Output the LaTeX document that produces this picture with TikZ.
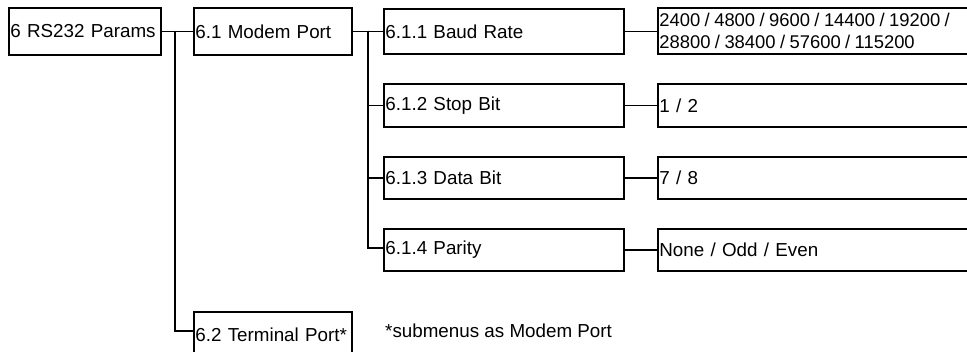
\documentclass[tikz,border=0pt]{standalone}
\usepackage{fontspec}
\setmainfont{Liberation Sans}
\usetikzlibrary{positioning,calc}
\newcommand{\tightspace}{\spaceskip=0.24em\relax}
\begin{document}
\begin{tikzpicture}[x=1pt,y=-1pt,
  every node/.style={font=\fontsize{18.8}{22.5}\selectfont},
  box/.style={draw, line width=1.8pt, rectangle, anchor=north west,
    inner xsep=1.5pt, inner ysep=0pt, align=left},
  conn/.style={line width=1.4pt}]
\clip (0,0) rectangle (967,351);
\fill[white] (0,0) rectangle (967,351);
% level 1
\node[box, text width=149pt, minimum height=47pt] (p) at (8,7) {6 RS232 Params};
% level 2
\node[box, text width=155pt, minimum height=47pt] (mp) at (193,7) {6.1 Modem Port};
\node[box, text width=155pt, minimum height=46pt] (tp) at (193,311) {6.2 Terminal Port*};
% level 3
\node[box, text width=237pt, minimum height=45pt] (br) at (383,8) {6.1.1 Baud Rate};
\node[box, text width=237pt, minimum height=43pt] (sb) at (383,83) {6.1.2 Stop Bit};
\node[box, text width=237pt, minimum height=42pt] (db) at (383,156) {6.1.3 Data Bit};
\node[box, text width=237pt, minimum height=42pt] (pa) at (383,228) {6.1.4 Parity};
% values
\node[box, text width=340pt, minimum height=46pt,
  font=\fontsize{18.4}{22.5}\selectfont] (brv) at (657,7)
  {\tightspace 2400 / 4800 / 9600 / 14400 / 19200 /\\\tightspace 28800 / 38400 / 57600 / 115200};
\node[box, text width=340pt, minimum height=43pt] (sbv) at (657,83) {1 / 2};
\node[box, text width=340pt, minimum height=42pt] (dbv) at (657,156) {7 / 8};
\node[box, text width=340pt, minimum height=42pt] (pav) at (657,228) {None / Odd / Even};
% note
\node[anchor=west, inner sep=0pt] (note) at (385,331) {*submenus as Modem Port};
% connectors
\coordinate (j1) at (175,30.5);
\coordinate (j2) at (368,30.5);
\draw[conn] (p.east) -- (mp.west);
\draw[conn] (j1) |- ([yshift=4pt]tp.west);
\draw[conn] (mp.east) -- (br.west);
\draw[conn] (j2) |- (sb.west);
\draw[conn] (j2) |- (db.west);
\draw[conn] (j2) |- ([yshift=2pt]pa.west);
\draw[conn] (br.east) -- (brv.west |- br.east);
\draw[conn] (sb.east) -- (sbv.west);
\draw[conn] (db.east) -- (dbv.west);
\draw[conn] (pa.east) -- (pav.west);
\end{tikzpicture}
\end{document}
